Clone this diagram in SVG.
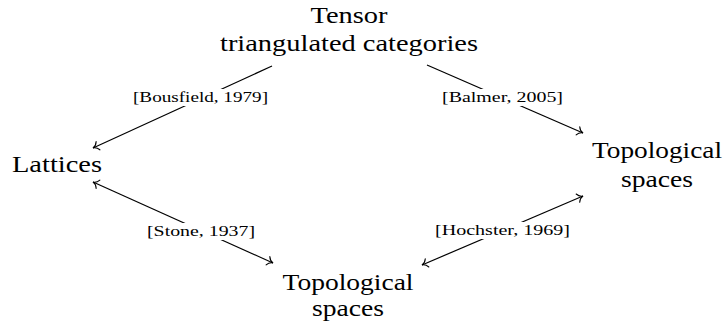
<svg xmlns="http://www.w3.org/2000/svg" width="726" height="321" viewBox="0 0 726 321">
<style>
  .node { font-family: "Liberation Serif", "DejaVu Serif", serif; font-size: 23px; fill: #000; text-anchor: middle; }
  .lbl { font-family: "Liberation Serif", "DejaVu Serif", serif; font-size: 14px; fill: #000; text-anchor: middle; }
  .edge { stroke: #000; stroke-width: 1.2; fill: none; }
  .bg { fill: #fff; }
</style>
<defs>
  <marker id="to" viewBox="-8 -6 10 12" refX="0" refY="0" markerWidth="10" markerHeight="12" markerUnits="userSpaceOnUse" orient="auto-start-reverse">
    <path d="M-5.5,-4.5 C-4,-1.5 -1.8,-0.3 0,0 C-1.8,0.3 -4,1.5 -5.5,4.5" fill="none" stroke="#000" stroke-width="1.1" stroke-linecap="round"/>
  </marker>
</defs>
<g id="connectors">
  <line class="edge" x1="272" y1="66" x2="93" y2="148" marker-end="url(#to)"/>
  <line class="edge" x1="427" y1="65" x2="583" y2="133" marker-end="url(#to)"/>
  <line class="edge" x1="93" y1="182" x2="273" y2="263" marker-start="url(#to)" marker-end="url(#to)"/>
  <line class="edge" x1="583" y1="196" x2="422" y2="265" marker-start="url(#to)" marker-end="url(#to)"/>
  <g id="label-bousfield">
    <rect class="bg" x="132" y="89" width="137" height="17"/>
    <text class="lbl" x="200.5" y="102" textLength="135" lengthAdjust="spacingAndGlyphs">[Bousfield, 1979]</text>
  </g>
  <g id="label-balmer">
    <rect class="bg" x="441" y="89" width="123" height="17"/>
    <text class="lbl" x="502.5" y="102" textLength="121" lengthAdjust="spacingAndGlyphs">[Balmer, 2005]</text>
  </g>
  <g id="label-stone">
    <rect class="bg" x="146" y="223" width="110" height="17"/>
    <text class="lbl" x="201" y="236" textLength="108" lengthAdjust="spacingAndGlyphs">[Stone, 1937]</text>
  </g>
  <g id="label-hochster">
    <rect class="bg" x="434" y="222" width="137" height="17"/>
    <text class="lbl" x="502.5" y="235" textLength="135" lengthAdjust="spacingAndGlyphs">[Hochster, 1969]</text>
  </g>
</g>
<g id="node-tensor">
  <text class="node" x="349" y="23" textLength="77" lengthAdjust="spacingAndGlyphs">Tensor</text>
  <text class="node" x="349" y="51" textLength="258" lengthAdjust="spacingAndGlyphs">triangulated categories</text>
</g>
<g id="node-lattices">
  <text class="node" x="57" y="172" textLength="90" lengthAdjust="spacingAndGlyphs">Lattices</text>
</g>
<g id="node-top-right">
  <text class="node" x="657" y="158" textLength="130" lengthAdjust="spacingAndGlyphs">Topological</text>
  <text class="node" x="657" y="187" textLength="72" lengthAdjust="spacingAndGlyphs">spaces</text>
</g>
<g id="node-top-bottom">
  <text class="node" x="348" y="290" textLength="131" lengthAdjust="spacingAndGlyphs">Topological</text>
  <text class="node" x="348" y="316" textLength="72" lengthAdjust="spacingAndGlyphs">spaces</text>
</g>
</svg>
